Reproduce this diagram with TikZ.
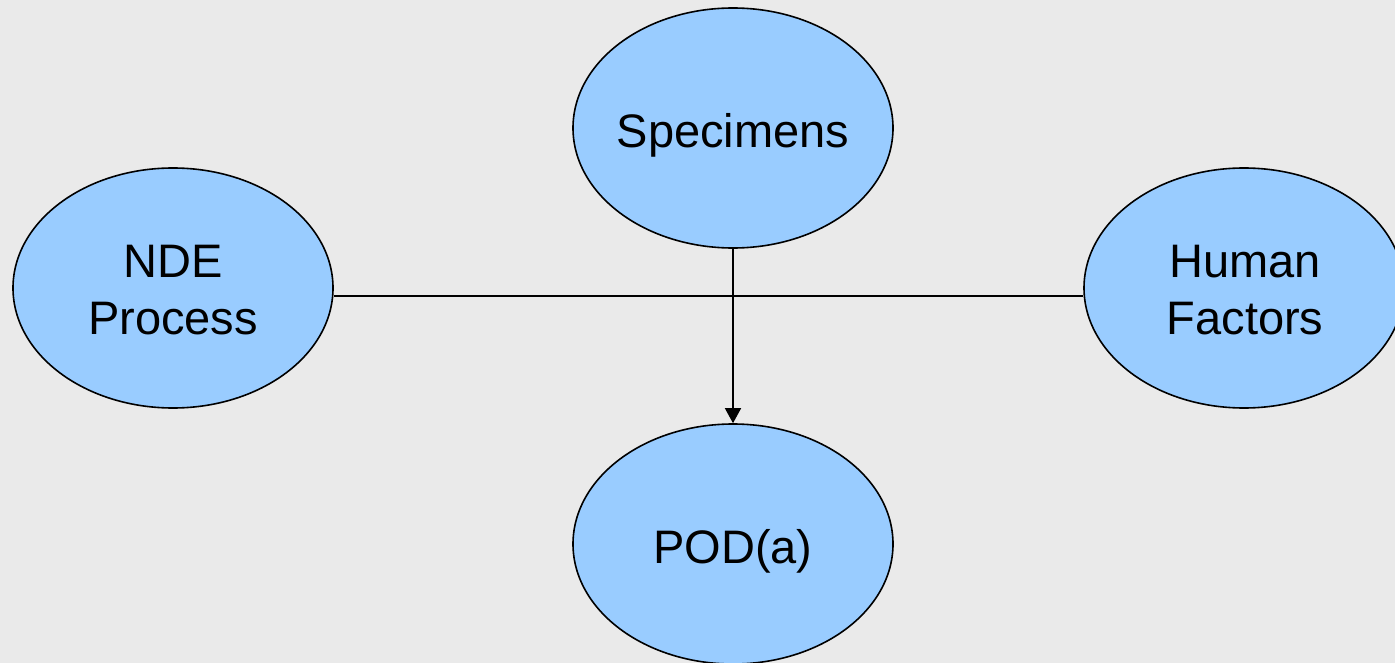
\documentclass[tikz,border=0pt]{standalone}
\usepackage{fontspec}
\setmainfont{Liberation Sans}
\usetikzlibrary{shapes.geometric,arrows.meta}
\definecolor{bg}{HTML}{EAEAEA}
\definecolor{bubble}{HTML}{99CCFF}
\begin{document}
\begin{tikzpicture}[x=1pt,y=-1pt,
  bubble/.style={ellipse,draw=black,line width=1.6pt,fill=bubble,minimum width=320pt,minimum height=240pt,inner sep=0pt},
  lbl/.style={inner sep=0pt,align=center,font=\fontsize{47}{57}\selectfont,text=black},
  conn/.style={draw=black,line width=1.4pt}]
\useasboundingbox (0,0) rectangle (1395,663);
\clip (0,0) rectangle (1395,663);
\fill[bg] (0,0) rectangle (1395,663);
\node[bubble] (spec) at (733,128) {};
\node[bubble] (nde) at (173,288) {};
\node[bubble] (hf) at (1244,288) {};
\node[bubble] (pod) at (733,544) {};
\node[lbl] (specT) at (733,135) {Specimens};
\node[lbl] (ndeT) at (173,290) {NDE\\Process};
\node[lbl] (hfT) at (1245,290) {Human\\Factors};
\node[lbl] (podT) at (733,551) {POD(a)};
\draw[conn] ([yshift=-8pt]nde.east) -- ([yshift=-8pt]hf.west);
\draw[conn,-{Triangle[length=15pt,width=16pt]}] (spec.south) -- (pod.north);
\end{tikzpicture}
\end{document}
